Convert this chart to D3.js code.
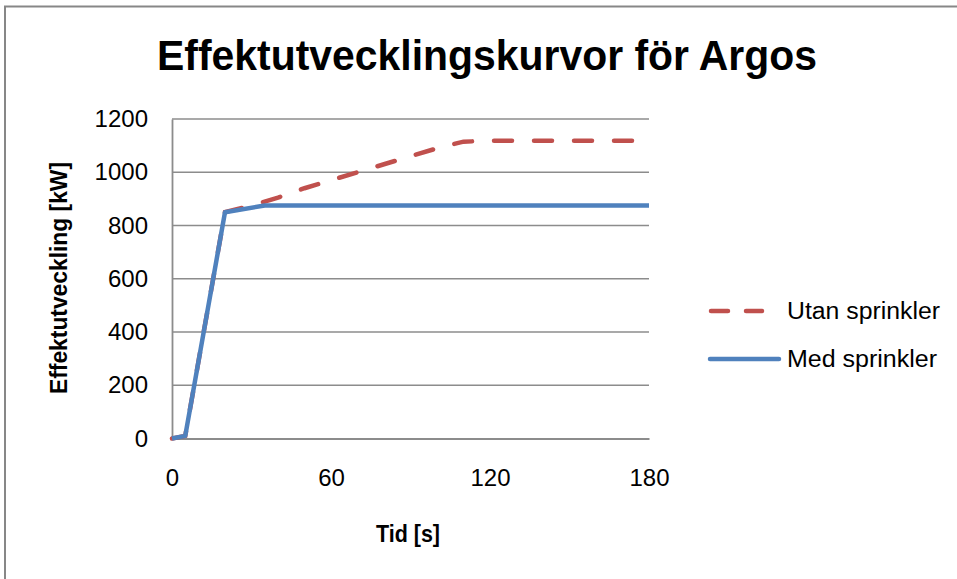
<!DOCTYPE html>
<html>
<head>
<meta charset="utf-8">
<script src="https://cdn.jsdelivr.net/npm/d3@7"></script>
<style>
  body { margin: 0; background: #fff; }
  text { font-family: "Liberation Sans Narrow", "Liberation Sans", Arial, sans-serif; fill: #000; }
</style>
</head>
<body>
<div class="canvas"></div>
<script>
// data
const utanTime = [0, 5, 20, 30, 40, 50, 60, 70, 80, 90, 100, 110, 120, 180];
const utanKW   = [0, 10, 850, 875, 905, 940, 970, 1000, 1030, 1060, 1090, 1115, 1118, 1118];
const medTime  = [0, 5, 20, 35, 180];
const medKW    = [0, 10, 850, 875, 875];
const xTicks = [0, 60, 120, 180];
const yTicks = [0, 200, 400, 600, 800, 1000, 1200];
const seriesNames = ['Utan sprinkler', 'Med sprinkler'];

const width = 957, height = 579;

const svg = d3.select('.canvas')
  .append('svg')
  .attr('width', width)
  .attr('height', height);

// chart border (runs off the right/bottom edge like the reference)
svg.append('rect')
  .attr('x', 5).attr('y', 6.5)
  .attr('width', 980).attr('height', 600)
  .attr('fill', '#fff')
  .attr('stroke', '#878787')
  .attr('stroke-width', 2);

// scales
const x = d3.scaleLinear().domain([0, 180]).range([172, 649]);
const y = d3.scaleLinear().domain([0, 1200]).range([438.5, 119]);

// horizontal grid lines
svg.append('g')
  .selectAll('line')
  .data(yTicks.filter(d => d > 0))
  .enter().append('line')
  .attr('x1', x(0)).attr('x2', x(180))
  .attr('y1', d => y(d)).attr('y2', d => y(d))
  .attr('stroke', '#8c8c8c')
  .attr('stroke-width', 1.6);

// axes - drawn with d3 axis generators, then restyled
const yAxis = d3.axisLeft(y).tickValues(yTicks).tickFormat(d3.format('d')).tickSize(0).tickPadding(24);
const xAxis = d3.axisBottom(x).tickValues(xTicks).tickFormat(d3.format('d')).tickSize(0).tickPadding(30);

const yAxisGroup = svg.append('g')
  .attr('transform', `translate(${x(0)},0)`)
  .call(yAxis);
const xAxisGroup = svg.append('g')
  .attr('transform', `translate(0,${y(0)})`)
  .call(xAxis);

[yAxisGroup, xAxisGroup].forEach(g => {
  g.select('.domain').attr('stroke', '#8c8c8c').attr('stroke-width', 1.8);
  g.selectAll('text')
    .attr('font-size', 24)
    .attr('font-family', '"Liberation Sans", Arial, sans-serif')
    .attr('fill', '#000');
});

// lines
const line = d3.line().x(d => x(d[0])).y(d => y(d[1]));

svg.append('path')
  .datum(d3.zip(utanTime, utanKW))
  .attr('d', line)
  .attr('fill', 'none')
  .attr('stroke', '#C0504D')
  .attr('stroke-width', 4.5)
  .attr('stroke-linecap', 'round')
  .attr('stroke-dasharray', '18 22');

svg.append('path')
  .datum(d3.zip(medTime, medKW))
  .attr('d', line)
  .attr('fill', 'none')
  .attr('stroke', '#4F81BD')
  .attr('stroke-width', 4.5)
  .attr('stroke-linejoin', 'round');

// title
svg.append('text')
  .attr('x', 487).attr('y', 70)
  .attr('text-anchor', 'middle')
  .attr('font-size', 42)
  .attr('font-weight', 'bold')
  .attr('textLength', 660)
  .attr('lengthAdjust', 'spacingAndGlyphs')
  .text('Effektutvecklingskurvor för Argos');

// axis titles
svg.append('text')
  .attr('transform', 'translate(67,278) rotate(-90)')
  .attr('text-anchor', 'middle')
  .attr('font-size', 24)
  .attr('font-weight', 'bold')
  .attr('textLength', 232)
  .attr('lengthAdjust', 'spacingAndGlyphs')
  .text('Effektutveckling [kW]');

svg.append('text')
  .attr('x', 408).attr('y', 542)
  .attr('text-anchor', 'middle')
  .attr('font-size', 24)
  .attr('font-weight', 'bold')
  .attr('textLength', 64)
  .attr('lengthAdjust', 'spacingAndGlyphs')
  .text('Tid [s]');

// legend
const legend = svg.append('g');
const legendY = [311, 359];

legend.append('line')
  .attr('x1', 711).attr('x2', 762)
  .attr('y1', legendY[0]).attr('y2', legendY[0])
  .attr('stroke', '#C0504D')
  .attr('stroke-width', 4.5)
  .attr('stroke-linecap', 'round')
  .attr('stroke-dasharray', '17 18');

legend.append('line')
  .attr('x1', 710).attr('x2', 779)
  .attr('y1', legendY[1]).attr('y2', legendY[1])
  .attr('stroke', '#4F81BD')
  .attr('stroke-width', 4.5)
  .attr('stroke-linecap', 'round');

legend.selectAll('text.lbl')
  .data(seriesNames)
  .enter().append('text')
  .attr('class', 'lbl')
  .attr('x', 787)
  .attr('y', (d, i) => legendY[i] + 8)
  .attr('font-size', 23)
  .attr('textLength', (d, i) => i === 0 ? 153 : 150)
  .attr('lengthAdjust', 'spacingAndGlyphs')
  .text(d => d);
</script>
</body>
</html>
